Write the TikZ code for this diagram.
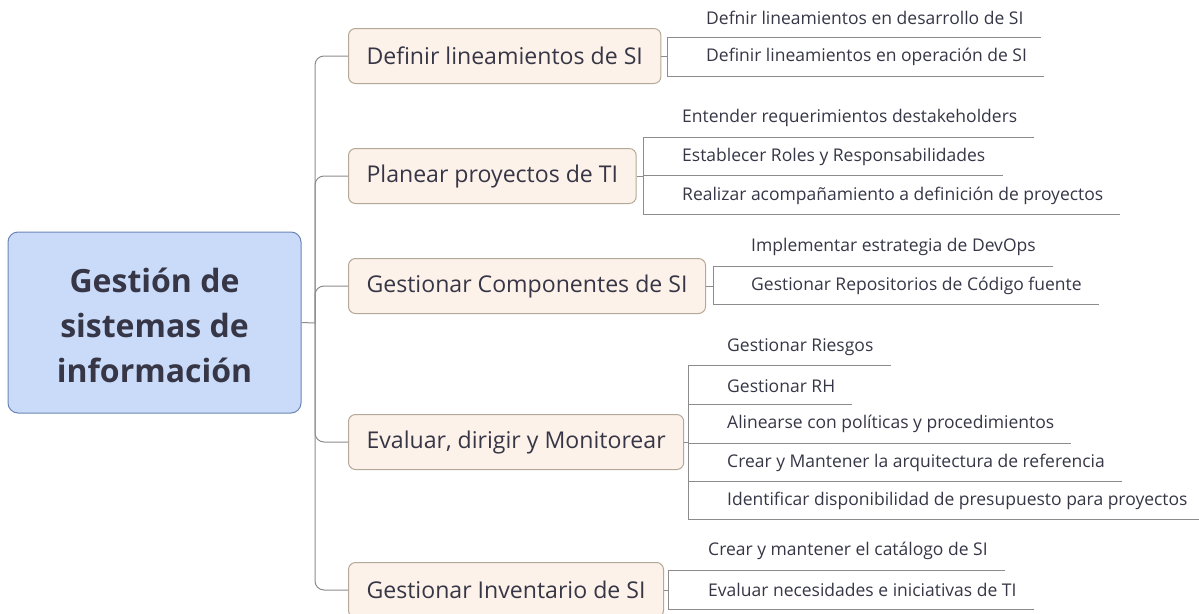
\documentclass[tikz,border=0pt]{standalone}
\usepackage{fontspec}
\setmainfont{Open Sans}
\usetikzlibrary{calc}
\definecolor{rootfill}{HTML}{C9DBF9}
\definecolor{rootdraw}{HTML}{6C86B4}
\definecolor{brfill}{HTML}{FDF2E9}
\definecolor{brdraw}{HTML}{B4A898}
\definecolor{linec}{HTML}{8C8C8C}
\definecolor{txt}{HTML}{363646}
\tikzset{
  rootbox/.style={draw=rootdraw, fill=rootfill, rounded corners=10pt, line width=1pt,
    minimum width=293pt, minimum height=181pt, inner sep=0pt, align=center,
    text=txt, font=\fontsize{32}{45}\selectfont\bfseries},
  branchbox/.style={draw=brdraw, fill=brfill, rounded corners=7pt, line width=1pt,
    minimum height=55pt, inner xsep=18pt, inner ysep=0pt, anchor=west,
    text=txt, font=\fontsize{23.1}{26}\selectfont},
  leaf/.style={anchor=west, inner sep=0pt, text=txt, font=\fontsize{17.5}{20}\selectfont},
  conn/.style={draw=linec, line width=1pt},
  trunk/.style={conn, rounded corners=9pt},
}
\begin{document}
\begin{tikzpicture}[x=1pt,y=-1pt]
\useasboundingbox (0,0) rectangle (1199,613);
\node[rootbox] (root) at (154.5,322.5) {\rule{0pt}{30pt}Gestión de\\sistemas de\\información};
\coordinate (tr) at (315,323);
% branches
\node[branchbox] (b1) at (348,56) {Definir lineamientos de SI};
\node[branchbox] (b2) at (348,176) {Planear proyectos de TI};
\node[branchbox] (b3) at (348,286) {Gestionar Componentes de SI};
\node[branchbox] (b4) at (348,442) {Evaluar, dirigir y Monitorear};
\node[branchbox] (b5) at (348,590) {Gestionar Inventario de SI};
\draw[conn] (root.east) -- (tr);
\foreach \b in {b1,b2,b3,b4,b5} { \draw[trunk] (tr) |- (\b.west); }
% leaves branch 1
\node[leaf] (l11) at (706,18) {Defnir lineamientos en desarrollo de SI};
\node[leaf] (l12) at (706,57) {Definir lineamientos en operación de SI};
\coordinate (v1t) at (667,37); \coordinate (v1b) at (667,76);
\draw[conn] (b1.east) -- (b1.east -| v1t);
\draw[conn] (v1t) -- (v1b);
\draw[conn] (v1t) -- ($(v1t -| l11.east)+(17,0)$);
\draw[conn] (v1b) -- ($(v1b -| l12.east)+(17,0)$);
% leaves branch 2
\node[leaf] (l21) at (682,118) {Entender requerimientos destakeholders};
\node[leaf] (l22) at (682,157) {Establecer Roles y Responsabilidades};
\node[leaf] (l23) at (682,196) {Realizar acompañamiento a definición de proyectos};
\coordinate (v2t) at (643,137); \coordinate (v2m) at (643,175); \coordinate (v2b) at (643,214);
\draw[conn] (b2.east) -- (b2.east -| v2t);
\draw[conn] (v2t) -- (v2b);
\draw[conn] (v2t) -- ($(v2t -| l21.east)+(17,0)$);
\draw[conn] (v2m) -- ($(v2m -| l22.east)+(17,0)$);
\draw[conn] (v2b) -- ($(v2b -| l23.east)+(17,0)$);
% leaves branch 3
\node[leaf] (l31) at (751,247) {Implementar estrategia de DevOps};
\node[leaf] (l32) at (751,286) {Gestionar Repositorios de Código fuente};
\coordinate (v3t) at (713,266); \coordinate (v3b) at (713,304);
\draw[conn] (b3.east) -- (b3.east -| v3t);
\draw[conn] (v3t) -- (v3b);
\draw[conn] (v3t) -- ($(v3t -| l31.east)+(17,0)$);
\draw[conn] (v3b) -- ($(v3b -| l32.east)+(17,0)$);
% leaves branch 4
\node[leaf] (l41) at (727,347) {Gestionar Riesgos};
\node[leaf] (l42) at (727,386) {Gestionar RH};
\node[leaf] (l43) at (727,424) {Alinearse con políticas y procedimientos};
\node[leaf] (l44) at (727,463) {Crear y Mantener la arquitectura de referencia};
\node[leaf] (l45) at (727,501) {Identificar disponibilidad de presupuesto para proyectos};
\coordinate (v4a) at (688,365); \coordinate (v4b) at (688,404); \coordinate (v4c) at (688,443);
\coordinate (v4d) at (688,481); \coordinate (v4e) at (688,519);
\draw[conn] (b4.east) -- (b4.east -| v4a);
\draw[conn] (v4a) -- (v4e);
\draw[conn] (v4a) -- ($(v4a -| l41.east)+(17,0)$);
\draw[conn] (v4b) -- ($(v4b -| l42.east)+(17,0)$);
\draw[conn] (v4c) -- ($(v4c -| l43.east)+(17,0)$);
\draw[conn] (v4d) -- ($(v4d -| l44.east)+(17,0)$);
\draw[conn] (v4e) -- ($(v4e -| l45.east)+(17,0)$);
% leaves branch 5
\node[leaf] (l51) at (708,551) {Crear y mantener el catálogo de SI};
\node[leaf] (l52) at (708,590) {Evaluar necesidades e iniciativas de TI};
\coordinate (v5t) at (668,570); \coordinate (v5b) at (668,609);
\draw[conn] (b5.east) -- (b5.east -| v5t);
\draw[conn] (v5t) -- (v5b);
\draw[conn] (v5t) -- ($(v5t -| l51.east)+(17,0)$);
\draw[conn] (v5b) -- ($(v5b -| l52.east)+(17,0)$);
\end{tikzpicture}
\end{document}
